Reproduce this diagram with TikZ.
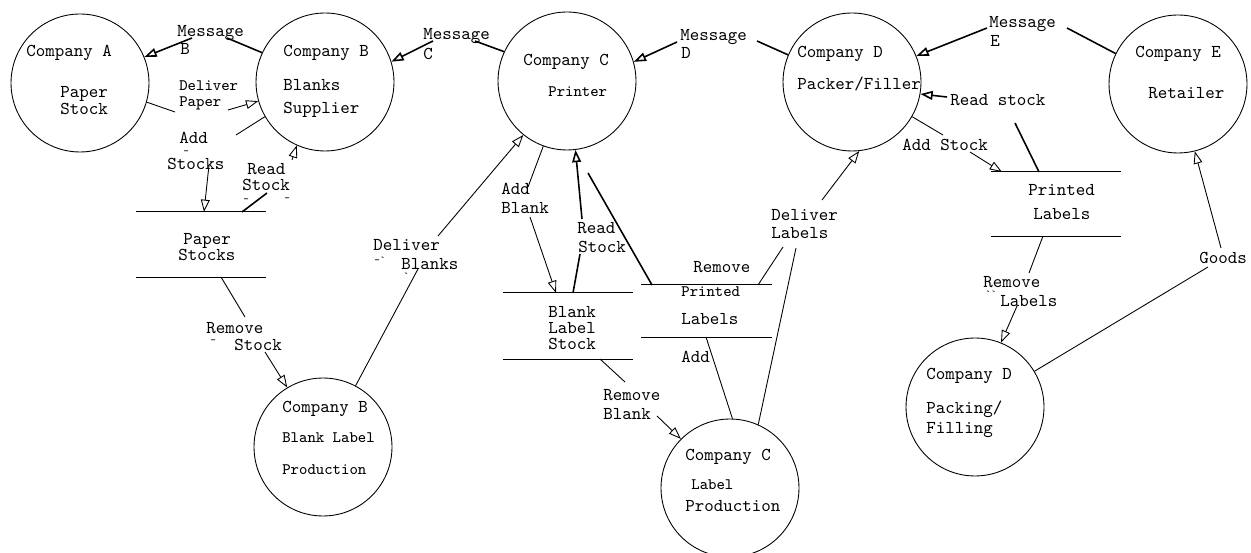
\documentclass[tikz,border=0pt]{standalone}
\usepackage{fontspec}
\usetikzlibrary{arrows.meta}
\begin{document}
\begin{tikzpicture}[x=0.02cm,y=-0.02cm,
  proc/.style={circle,draw,line width=0.5pt,minimum size=2.76cm,inner sep=0pt},
  store/.style={inner sep=0pt,minimum width=2.6cm},
  sline/.style={line width=0.7pt},
  flow/.style={line width=0.5pt},
  bold/.style={line width=0.9pt},
  arr/.style={-{Triangle[open,length=7pt,width=5pt]}},
  tx/.style={anchor=base west,inner sep=0pt,font=\ttfamily\fontsize{10.3}{11}\selectfont},
  ts/.style={anchor=base west,inner sep=0pt,font=\ttfamily\fontsize{9.1}{10}\selectfont},
  tm/.style={anchor=base west,inner sep=0pt,font=\ttfamily\fontsize{6}{6}\selectfont},
]
\fill[white] (0,0) rectangle (1251,553);
\useasboundingbox (0,0) rectangle (1251,553);

% processes
\node[proc] (A)   at (80,83)   {};
\node[proc] (B)   at (325,82)  {};
\node[proc] (C)   at (567,81)  {};
\node[proc] (D)   at (852,82)  {};
\node[proc] (E)   at (1178,84) {};
\node[proc] (BLP) at (323,447) {};
\node[proc] (LP)  at (730,488) {};
\node[proc] (PF)  at (975,407) {};

\node[tx] (tA1) at (26,57)   {Company A};
\node[tx] (tA2) at (60,98)   {Paper};
\node[tx] (tA3) at (60,115)  {Stock};
\node[tx] (tB1) at (283,57)  {Company B};
\node[tx] (tB2) at (283,91)  {Blanks};
\node[tx] (tB3) at (283,114) {Supplier};
\node[tx] (tC1) at (523,66)  {Company C};
\node[ts] (tC2) at (548,97)  {Printer};
\node[tx] (tD1) at (797,58)  {Company D};
\node[tx] (tD2) at (797,90)  {Packer/Filler};
\node[tx] (tE1) at (1135,58) {Company E};
\node[tx] (tE2) at (1148,99) {Retailer};
\node[tx] (tP1) at (282,413) {Company B};
\node[ts] (tP2) at (282,443) {Blank Label};
\node[ts] (tP3) at (282,475) {Production};
\node[tx] (tL1) at (685,461) {Company C};
\node[ts] (tL2) at (691,490) {Label};
\node[tx] (tL3) at (685,512) {Production};
\node[tx] (tF1) at (926,380) {Company D};
\node[tx] (tF2) at (926,414) {Packing/};
\node[tx] (tF3) at (926,434) {Filling};

% data stores
\node[store,minimum height=1.3cm]  (ps)  at (201,244.5) {};
\node[store,minimum height=1.32cm] (bls) at (568,326)   {};
\node[store,minimum height=1.04cm] (plm) at (706.5,311) {};
\node[store,minimum height=1.28cm] (plr) at (1056,204)  {};
\foreach \s in {ps,bls,plm,plr}
  \draw[sline] (\s.north west) -- (\s.north east) (\s.south west) -- (\s.south east);

\node[tx] (sP1) at (183,245)  {Paper};
\node[tx] (sP2) at (178,261)  {Stocks};
\node[tx] (sB1) at (548,318)  {Blank};
\node[tx] (sB2) at (548,334)  {Label};
\node[tx] (sB3) at (548,350)  {Stock};
\node[ts] (sM1) at (681,297)  {Printed};
\node[tx] (sM2) at (681,325)  {Labels};
\node[tx] (sR1) at (1028,196) {Printed};
\node[tx] (sR2) at (1033,220) {Labels};

% flow labels
\node[tx] (lMB1) at (177,37)  {Message};
\node[tx] (lMB2) at (180,55)  {B};
\node[ts] (lDP1) at (179,91)  {Deliver};
\node[ts] (lDP2) at (179,107) {Paper};
\node[tx] (lAS1) at (179,144) {Add};
\node[tm] (lAS2) at (183,155) {-};
\node[tx] (lAS3) at (167,170) {Stocks};
\node[tx] (lRS1) at (247,175) {Read};
\node[tx] (lRS2) at (242,191) {Stock};
\node[tm] (lRS3) at (243,203) {-};
\node[tm] (lRS4) at (284,202) {-};
\node[tx] (lMC1) at (423,40)  {Message};
\node[tx] (lMC2) at (423,60)  {C};
\node[tx] (lMD1) at (680,41)  {Message};
\node[tx] (lMD2) at (681,59)  {D};
\node[tx] (lME1) at (989,28)  {Message};
\node[tx] (lME2) at (990,47)  {E};
\node[tx] (lRs)  at (950,106) {Read stock};
\node[tx] (lASt) at (902,151) {Add Stock};
\node[tx] (lDL1) at (771,221) {Deliver};
\node[tx] (lDL2) at (771,239) {Labels};
\node[tx] (lRm)  at (693,273) {Remove};
\node[tx] (lAd)  at (681,363) {Add};
\node[tx] (lAB1) at (501,195) {Add};
\node[tx] (lAB2) at (501,214) {Blank};
\node[tx] (lRB1) at (577,234) {Read};
\node[tx] (lRB2) at (578,253) {Stock};
\node[tx] (lRv1) at (603,401) {Remove};
\node[tx] (lRv2) at (603,420) {Blank};
\node[tx] (lDB1) at (373,251) {Deliver};
\node[tm] (lDB2) at (374,264) {-`};
\node[tx] (lDB3) at (401,270) {Blanks};
\node[tm] (lDB4) at (403,280) {`};
\node[tx] (lRS5) at (206,334) {Remove};
\node[tm] (lRS6) at (210,344) {-};
\node[tx] (lRS7) at (234,351) {Stock};
\node[tx] (lRL1) at (983,288) {Remove};
\node[tm] (lRL2) at (985,298) {``};
\node[tx] (lRL3) at (1000,307) {Labels};
\node[tx] (lGd)  at (1199,264) {Goods};

% break points of the flows around their labels
\coordinate (mB1) at (227,38);   \coordinate (mB2) at (192,38);
\coordinate (dP1) at (175,112);  \coordinate (dP2) at (228,110);
\coordinate (aS1) at (236,135);  \coordinate (aS2) at (209,165);  \coordinate (aS3) at (204,212);
\coordinate (rS1) at (242,212);  \coordinate (rS2) at (267,193);  \coordinate (rS3) at (292,160);
\coordinate (mC1) at (475,41);   \coordinate (mC2) at (433,41);
\coordinate (mD1) at (757,41);   \coordinate (mD2) at (677,42);
\coordinate (mE1) at (1067,28);  \coordinate (mE2) at (987,28);
\coordinate (rs1) at (1039,172); \coordinate (rs2) at (1015,123); \coordinate (rs3) at (947,97);
\coordinate (aT1) at (943,135);  \coordinate (aT2) at (970,152);  \coordinate (aT3) at (1002,172);
\coordinate (rL1) at (1043,236); \coordinate (rL2) at (1029,273); \coordinate (rL3) at (1017,306);
\coordinate (gd1) at (1208,267); \coordinate (gd2) at (1221,248);
\coordinate (rK1) at (221,277);  \coordinate (rK2) at (245,317);  \coordinate (rK3) at (265,352);
\coordinate (dB1) at (418,269);  \coordinate (dB2) at (438,236);
\coordinate (aB1) at (528,187);  \coordinate (aB2) at (530,217);  \coordinate (aB3) at (556,293);
\coordinate (rB1) at (573,293);  \coordinate (rB2) at (580,254);  \coordinate (rB3) at (582,219);
\coordinate (pm1) at (652,285);  \coordinate (pm2) at (588,173);
\coordinate (pm3) at (758,285);  \coordinate (pm4) at (783,247);
\coordinate (dL1) at (796,248);  \coordinate (dL2) at (822,200);
\coordinate (ad1) at (706,337);
\coordinate (rv1) at (600,359);  \coordinate (rv2) at (625,382);  \coordinate (rv3) at (657,416);

% flows
\draw[bold] (B.155) -- (mB1);  \draw[bold,arr] (mB2) -- (A.22);
\draw[flow] (A.-16) -- (dP1);  \draw[flow,arr] (dP2) -- (B.196);
\draw[flow] (B.210) -- (aS1);  \draw[flow,arr] (aS2) -- (aS3);
\draw[bold] (rS1) -- (rS2);    \draw[flow,arr] (rS3) -- (B.246);
\draw[bold] (C.155) -- (mC1);  \draw[bold,arr] (mC2) -- (B.17);
\draw[bold] (D.157) -- (mD1);  \draw[bold,arr] (mD2) -- (C.16);
\draw[bold] (E.154) -- (mE1);  \draw[bold,arr] (mE2) -- (D.22);
\draw[bold] (rs1) -- (rs2);    \draw[bold,arr] (rs3) -- (D.-10);
\draw[flow] (D.-30) -- (aT1);  \draw[flow,arr] (aT2) -- (aT3);
\draw[flow] (rL1) -- (rL2);    \draw[flow,arr] (rL3) -- (PF.68);
\draw[flow] (PF.31) -- (gd1);  \draw[flow,arr] (gd2) -- (E.-76);
\draw[flow] (rK1) -- (rK2);    \draw[flow,arr] (rK3) -- (BLP.121);
\draw[flow] (BLP.62) -- (dB1); \draw[flow,arr] (dB2) -- (C.231);
\draw[flow] (C.250) -- (aB1);  \draw[flow,arr] (aB2) -- (aB3);
\draw[bold] (rB1) -- (rB2);    \draw[bold,arr] (rB3) -- (C.277);
\draw[bold] (pm1) -- (pm2);
\draw[flow] (pm3) -- (pm4);
\draw[flow] (LP.66) -- (dL1);  \draw[flow,arr] (dL2) -- (D.276);
\draw[flow] (ad1) -- (LP.88);
\draw[flow] (rv1) -- (rv2);    \draw[flow,arr] (rv3) -- (LP.135);
\end{tikzpicture}
\end{document}
